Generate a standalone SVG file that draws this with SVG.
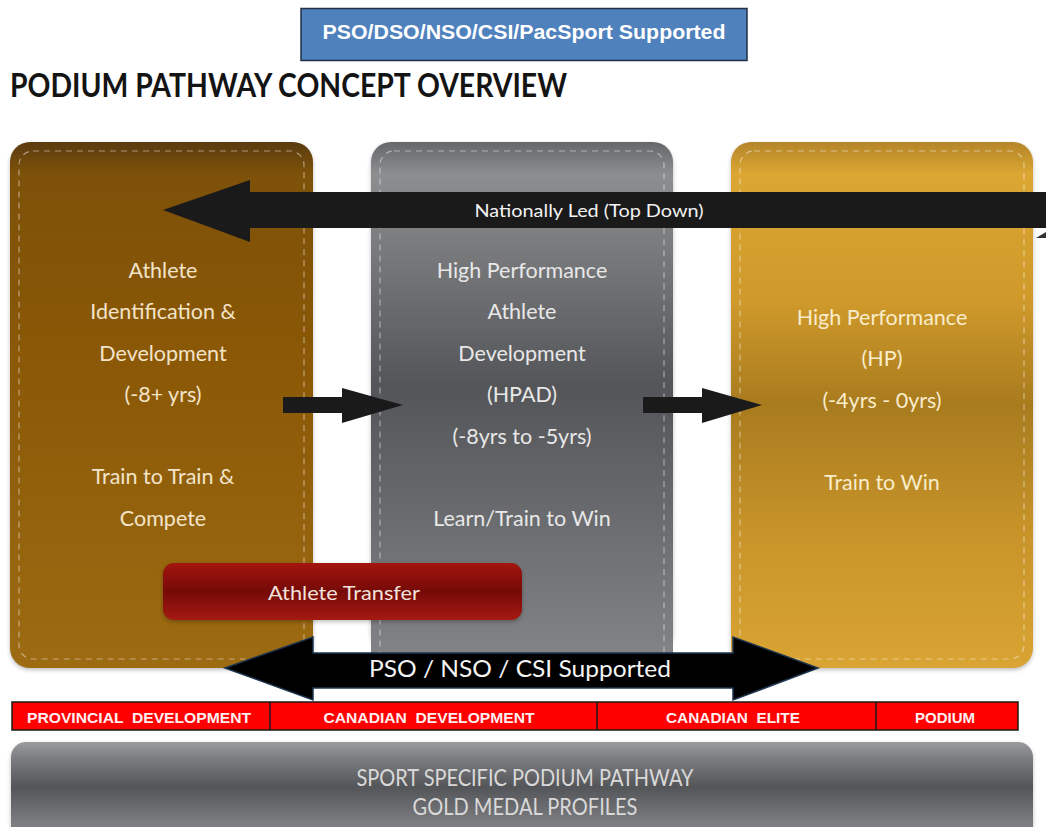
<svg xmlns="http://www.w3.org/2000/svg" width="1046" height="827" viewBox="0 0 1046 827">
  <defs>
    <linearGradient id="gBrown" x1="0" y1="0" x2="0" y2="1">
      <stop offset="0" stop-color="#5a3b10"/>
      <stop offset="0.06" stop-color="#7d5109"/>
      <stop offset="0.4" stop-color="#8a5806"/>
      <stop offset="1" stop-color="#9c6b12"/>
    </linearGradient>
    <linearGradient id="gGray" x1="0" y1="0" x2="0" y2="1">
      <stop offset="0" stop-color="#66676a"/>
      <stop offset="0.06" stop-color="#8d8e90"/>
      <stop offset="0.45" stop-color="#545558"/>
      <stop offset="1" stop-color="#86888b"/>
    </linearGradient>
    <linearGradient id="gGold" x1="0" y1="0" x2="0" y2="1">
      <stop offset="0" stop-color="#b4852a"/>
      <stop offset="0.06" stop-color="#dba632"/>
      <stop offset="0.3" stop-color="#d09a2b"/>
      <stop offset="0.5" stop-color="#a87b1e"/>
      <stop offset="0.75" stop-color="#c9952a"/>
      <stop offset="1" stop-color="#d9a433"/>
    </linearGradient>
    <linearGradient id="gRed" x1="0" y1="0" x2="0" y2="1">
      <stop offset="0" stop-color="#a3160f"/>
      <stop offset="0.5" stop-color="#760a07"/>
      <stop offset="1" stop-color="#a51a12"/>
    </linearGradient>
    <linearGradient id="gBase" x1="0" y1="0" x2="0" y2="1">
      <stop offset="0" stop-color="#9a9b9d"/>
      <stop offset="0.15" stop-color="#7e7f82"/>
      <stop offset="0.45" stop-color="#545558"/>
      <stop offset="0.8" stop-color="#7b7c7f"/>
      <stop offset="1" stop-color="#86888b"/>
    </linearGradient>
    <filter id="soft" x="-10%" y="-10%" width="120%" height="120%">
      <feGaussianBlur stdDeviation="2"/>
    </filter>
  </defs>
  <style>
    .col-text { font-family: Lato, "Open Sans", "Liberation Sans", sans-serif; font-size: 21.5px; text-anchor: middle; dominant-baseline: central; }
    .stitch { fill: none; stroke: #ffffff; stroke-opacity: 0.45; stroke-width: 1.2; stroke-dasharray: 6 5; }
    .band-label { font-family: "Liberation Sans", Arial, sans-serif; font-weight: bold; font-size: 15px; fill: #ffeef0; text-anchor: middle; dominant-baseline: central; white-space: pre; }
    .arrow { fill: #1b1a1b; }
    .shade { fill: #000000; opacity: 0.25; }
  </style>

  <rect width="1046" height="827" fill="#ffffff"/>

  <!-- header badge -->
  <g id="badge">
    <rect x="301" y="8.5" width="446" height="52" fill="#4f81bd" stroke="#1f2f44" stroke-width="1.5"/>
    <text x="524" y="32" font-family="'Liberation Sans', Arial, sans-serif" font-weight="bold" font-size="20" fill="#ffffff" text-anchor="middle" dominant-baseline="central" textLength="403" lengthAdjust="spacingAndGlyphs">PSO/DSO/NSO/CSI/PacSport Supported</text>
  </g>

  <!-- title -->
  <g id="title">
    <text x="10" y="97" font-family="Lato, 'Open Sans', sans-serif" font-weight="bold" font-size="33" fill="#141414" textLength="557" lengthAdjust="spacingAndGlyphs">PODIUM PATHWAY CONCEPT OVERVIEW</text>
  </g>

  <!-- stage columns -->
  <g id="col-development">
    <rect x="10" y="144" width="303" height="526" rx="20" class="shade" filter="url(#soft)"/>
    <rect x="10" y="142" width="303" height="526" rx="20" fill="url(#gBrown)"/>
    <rect x="19" y="151" width="285" height="508" rx="14" class="stitch"/>
  </g>
  <g id="col-hpad">
    <rect x="371" y="144" width="302" height="510" rx="20" class="shade" filter="url(#soft)"/>
    <rect x="371" y="142" width="302" height="544" rx="20" fill="url(#gGray)"/>
    <rect x="380" y="151" width="284" height="530" rx="14" class="stitch"/>
  </g>
  <g id="col-hp">
    <rect x="731" y="144" width="302" height="526" rx="20" class="shade" filter="url(#soft)"/>
    <rect x="731" y="142" width="302" height="526" rx="20" fill="url(#gGold)"/>
    <rect x="740" y="151" width="284" height="508" rx="14" class="stitch"/>
  </g>

  <!-- column captions -->
  <g id="text-development" class="col-text" fill="#f3e4c9">
    <text x="163" y="270">Athlete</text>
    <text x="163" y="311">Identification &amp;</text>
    <text x="163" y="353">Development</text>
    <text x="163" y="394">(-8+ yrs)</text>
    <text x="163" y="476">Train to Train &amp;</text>
    <text x="163" y="518">Compete</text>
  </g>
  <g id="text-hpad" class="col-text" fill="#e8e8e8">
    <text x="522" y="270">High Performance</text>
    <text x="522" y="311">Athlete</text>
    <text x="522" y="353">Development</text>
    <text x="522" y="394">(HPAD)</text>
    <text x="522" y="436">(-8yrs to -5yrs)</text>
    <text x="522" y="518">Learn/Train to Win</text>
  </g>
  <g id="text-hp" class="col-text" fill="#f9eccb">
    <text x="882" y="317">High Performance</text>
    <text x="882" y="358">(HP)</text>
    <text x="882" y="400">(-4yrs - 0yrs)</text>
    <text x="882" y="482">Train to Win</text>
  </g>

  <!-- athlete transfer bar -->
  <g id="athlete-transfer">
    <rect x="163" y="565" width="359" height="57" rx="11" class="shade" filter="url(#soft)"/>
    <rect x="163" y="563" width="359" height="57" rx="11" fill="url(#gRed)"/>
    <text x="344" y="592" font-family="Lato, 'Open Sans', sans-serif" font-size="20" fill="#f2e2dc" text-anchor="middle" dominant-baseline="central" textLength="152" lengthAdjust="spacingAndGlyphs">Athlete Transfer</text>
  </g>

  <!-- connectors -->
  <g id="connectors">
    <!-- nationally led, pointing left -->
    <polygon points="1046,232 1046,238 1036,238" fill="#333333"/>
    <polygon class="arrow" points="163,210 250,180 250,192 1046,192 1046,228 250,228 250,242"/>
    <text x="589" y="210" font-family="Lato, 'Open Sans', sans-serif" font-size="17" fill="#f2f2f2" text-anchor="middle" dominant-baseline="central" textLength="229" lengthAdjust="spacingAndGlyphs">Nationally Led (Top Down)</text>

    <!-- stage progression -->
    <polygon class="arrow" points="283,397 342,397 342,388 403,405 342,423 342,413 283,413"/>
    <polygon class="arrow" points="643,397 702,397 702,388 762,405 702,423 702,413 643,413"/>

    <!-- supported, both directions -->
    <polygon points="225,668 313,637 313,653 733,653 733,637 818,668 733,700 733,688 313,688 313,700" fill="#000000" stroke="#1e3550" stroke-width="1.5" stroke-linejoin="miter"/>
    <text x="520" y="667" font-family="Lato, 'Open Sans', sans-serif" font-size="24" fill="#f4f4f4" text-anchor="middle" dominant-baseline="central" textLength="302" lengthAdjust="spacingAndGlyphs">PSO / NSO / CSI Supported</text>
  </g>

  <!-- stage band -->
  <g id="stage-band">
    <rect x="12" y="702" width="1006" height="28" fill="#ff0000" stroke="#1a1a1a" stroke-width="1.5"/>
    <line x1="270" y1="702" x2="270" y2="730" stroke="#1a1a1a" stroke-width="1.5"/>
    <line x1="597" y1="702" x2="597" y2="730" stroke="#1a1a1a" stroke-width="1.5"/>
    <line x1="876" y1="702" x2="876" y2="730" stroke="#1a1a1a" stroke-width="1.5"/>
    <text class="band-label" x="139" y="717" textLength="224" lengthAdjust="spacingAndGlyphs" xml:space="preserve">PROVINCIAL  DEVELOPMENT</text>
    <text class="band-label" x="429" y="717" textLength="211" lengthAdjust="spacingAndGlyphs" xml:space="preserve">CANADIAN  DEVELOPMENT</text>
    <text class="band-label" x="733" y="717" textLength="134" lengthAdjust="spacingAndGlyphs" xml:space="preserve">CANADIAN  ELITE</text>
    <text class="band-label" x="945" y="717" textLength="60" lengthAdjust="spacingAndGlyphs">PODIUM</text>
  </g>

  <!-- base bar -->
  <g id="base">
    <rect x="11" y="744" width="1022" height="100" rx="15" class="shade" filter="url(#soft)"/>
    <rect x="11" y="742" width="1022" height="100" rx="15" fill="url(#gBase)"/>
    <text x="525" y="777" font-family="Lato, 'Open Sans', sans-serif" font-size="23" fill="#d9d9d9" text-anchor="middle" dominant-baseline="central" textLength="337" lengthAdjust="spacingAndGlyphs">SPORT SPECIFIC PODIUM PATHWAY</text>
    <text x="525" y="806" font-family="Lato, 'Open Sans', sans-serif" font-size="23" fill="#d9d9d9" text-anchor="middle" dominant-baseline="central" textLength="225" lengthAdjust="spacingAndGlyphs">GOLD MEDAL PROFILES</text>
  </g>
</svg>
